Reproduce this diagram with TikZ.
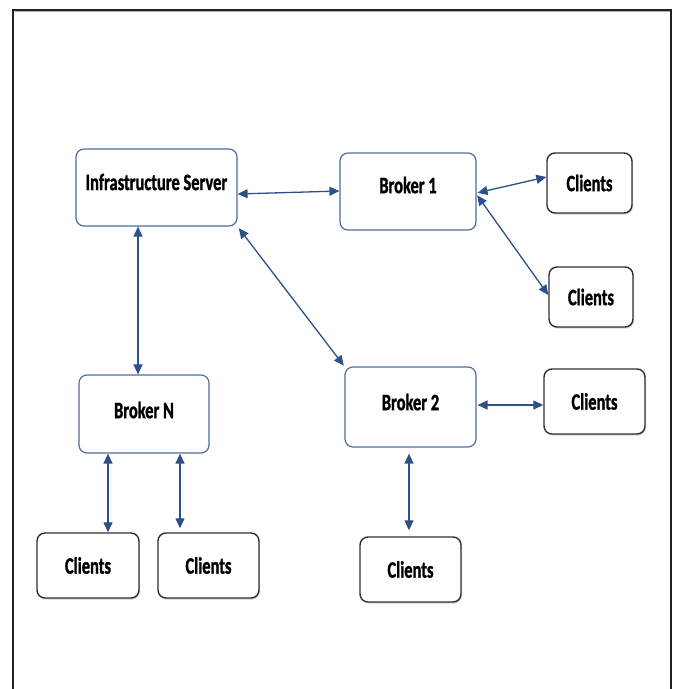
\documentclass[tikz,border=0pt]{standalone}
\usepackage{fontspec}
\newfontfamily\boxfont[FakeStretch=0.7,FakeBold=1.2]{Carlito}
\usetikzlibrary{arrows.meta,shadows}
\definecolor{brokerline}{HTML}{4F6D9A}
\definecolor{linkcol}{HTML}{2E5088}
\definecolor{clientline}{HTML}{303030}
\definecolor{framecol}{HTML}{222222}
\tikzset{
  broker/.style={draw=brokerline, line width=1.2pt, rounded corners=8pt, fill=white, inner sep=0pt},
  client/.style={draw=clientline, line width=1.4pt, rounded corners=8pt, fill=white, inner sep=0pt,
    drop shadow={shadow xshift=1pt, shadow yshift=-1.5pt, opacity=0.35},
    font=\boxfont\bfseries\fontsize{23.5}{23.5}\selectfont},
  btext/.style={font=\boxfont\bfseries\fontsize{23.5}{23.5}\selectfont},
  link/.style={draw=linkcol, line width=1.3pt, {Triangle[length=10pt,width=9pt]}-{Triangle[length=10pt,width=9pt]}},
}
\begin{document}
\begin{tikzpicture}[x=1pt,y=-1pt]
\useasboundingbox (0,0) rectangle (678,689);
% outer frame, open at the bottom
\draw[framecol, line width=2pt] (13,689) -- (13,10) -- (671,10) -- (671,689);
\draw[gray!60, line width=0.8pt] (14.5,11.8) -- (670,11.8);

% server and brokers
\node[broker, minimum width=161pt, minimum height=77pt] (infra) at (156.5,187.5) {};
\node[btext] (infraT) at (156.5,182) {Infrastructure Server};
\node[broker, minimum width=136pt, minimum height=77pt] (b1) at (408,191.5) {};
\node[btext] (b1T) at (408,185) {Broker 1};
\node[broker, minimum width=130pt, minimum height=78pt] (bn) at (144,414) {};
\node[btext] (bnT) at (144,410) {Broker N};
\node[broker, minimum width=131pt, minimum height=80pt] (b2) at (410.5,407) {};
\node[btext] (b2T) at (410.5,402) {Broker 2};

% client groups
\node[client, minimum width=85pt, minimum height=60pt] (c1) at (589.5,183) {Clients};
\node[client, minimum width=84pt, minimum height=60pt] (c2) at (591,297) {Clients};
\node[client, minimum width=101pt, minimum height=65pt] (c3) at (594.5,401.5) {Clients};
\node[client, minimum width=102pt, minimum height=65pt] (c4) at (88,565.5) {Clients};
\node[client, minimum width=101pt, minimum height=65pt] (c5) at (208.5,565.5) {Clients};
\node[client, minimum width=101pt, minimum height=65pt] (c6) at (410.5,569.5) {Clients};

% links
\draw[link] ([yshift=-6.5pt]infra.east) -- ([yshift=0.5pt]b1.west);
\draw[link] ([xshift=-18.5pt]infra.south) -- ([xshift=-6pt]bn.north);
\draw[link, shorten <=2pt, shorten >=1pt] (infra.south east) -- (b2.north west);
\draw[link, shorten <=1pt] ([yshift=-1.5pt]b1.east) -- ([yshift=6pt]c1.west);
\draw[link, shorten <=1pt] ([yshift=-3pt]b1.east) -- ([yshift=2pt]c2.west);
\draw[link] ([xshift=-36pt]bn.south) -- ([xshift=20pt]c4.north);
\draw[link, shorten >=4pt] ([xshift=36pt]bn.south) -- ([xshift=-28.5pt]c5.north);
\draw[link, shorten <=1pt] ([yshift=2pt]b2.east) -- ([yshift=-3.5pt]c3.west);
\draw[link, shorten <=6pt, shorten >=6pt] ([xshift=-1.5pt]b2.south) -- ([xshift=-1.5pt]c6.north);
\end{tikzpicture}
\end{document}
